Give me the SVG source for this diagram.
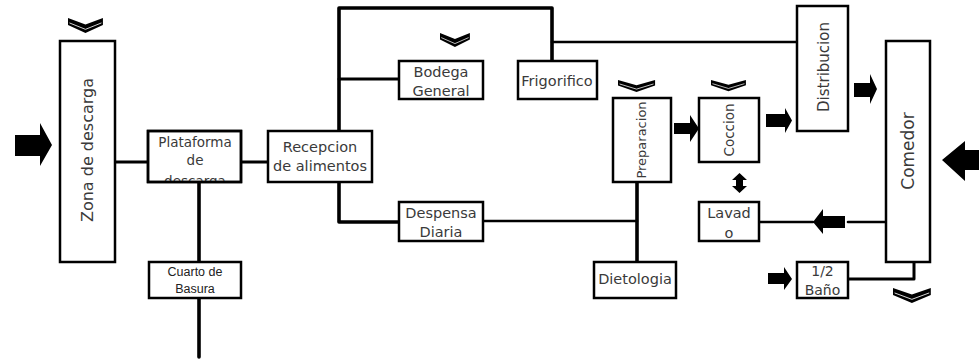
<svg xmlns="http://www.w3.org/2000/svg" width="979" height="360" viewBox="0 0 979 360">
  <style>
    .box { fill: #fff; stroke: #000; stroke-width: 2.5; }
    .lbl { font-family: "DejaVu Sans", "Liberation Sans", sans-serif; font-size: 14.5px; fill: #3a3a3a; text-anchor: middle; }
    .small { font-family: "Liberation Sans", Arial, sans-serif; font-size: 12.5px; fill: #222; text-anchor: middle; }
    .wire { fill: none; stroke: #000; stroke-width: 3; stroke-linecap: round; stroke-linejoin: round; }
    .thick { stroke-width: 3.6; }
    .thin { stroke-width: 2.6; }
    .arrow { fill: #000; }
  </style>
  <defs>
    <!-- downward chevron marker, 36 x 14 -->
    <g id="chev">
      <path d="M0,0 L18,6 L36,0 L36,6.5 L18,14 L0,6.5 Z" fill="#000"/>
      <path d="M1.5,4.6 L18,10.6 L34.5,4.6" fill="none" stroke="#fff" stroke-width="0.8"/>
    </g>
    <clipPath id="platClip">
      <rect x="148" y="131" width="93" height="51"/>
    </clipPath>
  </defs>

  <!-- connectors -->
  <g id="connectors">
    <line class="wire" x1="115" y1="162" x2="148" y2="162"/>
    <line class="wire" x1="241" y1="162" x2="268" y2="162"/>
    <line class="wire thick" x1="199" y1="182" x2="199" y2="262"/>
    <line class="wire thick" x1="199" y1="298" x2="199" y2="357"/>
    <polyline class="wire thick" points="339,131 339,8 552,8 552,61"/>
    <line class="wire" x1="339" y1="79" x2="399" y2="79"/>
    <polyline class="wire thick" points="339,182 339,222 399,222"/>
    <line class="wire thin" x1="483" y1="221" x2="637" y2="221"/>
    <line class="wire thick" x1="637" y1="182" x2="637" y2="262"/>
    <line class="wire thin" x1="552" y1="42" x2="797" y2="42"/>
    <line class="wire thin" x1="759" y1="222" x2="813" y2="222"/>
    <line class="wire thin" x1="848" y1="222" x2="886" y2="222"/>
    <polyline class="wire" points="848,279 914,279 914,262"/>

    <!-- block arrows -->
    <polygon class="arrow" points="15,135 40,135 40,123 52,145 40,166 40,156 15,156"/>
    <polygon class="arrow" points="674,123 690,123 690,115 699,128.5 690,142 690,134 674,134"/>
    <polygon class="arrow" points="766,114 785,114 785,108 792,120.5 785,133 785,127 766,127"/>
    <polygon class="arrow" points="854,83 870,83 870,74 877,89 870,104 870,97 854,97"/>
    <polygon class="arrow" points="979,150 965,150 965,141 942,160 965,181 965,170 979,170"/>
    <polygon class="arrow" points="813,222 823,209 823,216 845,216 845,228 823,228 823,234"/>
    <polygon class="arrow" points="768,273 784,273 784,267 792,279 784,290 784,284 768,284"/>
    <polygon class="arrow" points="739.5,173 747,180 743,180 743,186 747,186 739.5,193 732,186 736,186 736,180 732,180"/>

    <!-- chevrons -->
    <use href="#chev" transform="translate(68,18) scale(0.97,1.07)"/>
    <use href="#chev" transform="translate(440,33) scale(0.83,1)"/>
    <use href="#chev" transform="translate(618,80) scale(1.03,0.86)"/>
    <use href="#chev" transform="translate(711,80) scale(0.97,0.8)"/>
    <use href="#chev" transform="translate(893,288) scale(1.05,1.07)"/>
  </g>

  <g id="zona">
    <rect class="box" x="60" y="41" width="55" height="221"/>
    <text class="lbl" style="font-size:16px" transform="translate(93,150) rotate(-90)">Zona de descarga</text>
  </g>

  <g id="plataforma">
    <rect class="box" x="148" y="131" width="93" height="51"/>
    <g clip-path="url(#platClip)">
      <text class="lbl" style="font-size:13.5px" x="195" y="147">Plataforma</text>
      <text class="lbl" style="font-size:13.5px" x="195" y="165">de</text>
      <text class="lbl" style="font-size:13.5px" x="195" y="186">descarga</text>
    </g>
    <rect x="148" y="131" width="93" height="51" fill="none" stroke="#000" stroke-width="2.5"/>
  </g>

  <g id="cuarto">
    <rect class="box" x="149" y="262" width="92" height="36"/>
    <text class="small" x="195" y="276">Cuarto de</text>
    <text class="small" x="195" y="293">Basura</text>
  </g>

  <g id="recepcion">
    <rect class="box" x="268" y="131" width="104" height="51"/>
    <text class="lbl" x="320" y="152">Recepcion</text>
    <text class="lbl" x="320" y="171">de alimentos</text>
  </g>

  <g id="bodega">
    <rect class="box" x="399" y="61" width="84" height="38"/>
    <text class="lbl" x="441" y="77">Bodega</text>
    <text class="lbl" x="441" y="96">General</text>
  </g>

  <g id="frigorifico">
    <rect class="box" x="518" y="61" width="79" height="38"/>
    <text class="lbl" x="557" y="86">Frigorifico</text>
  </g>

  <g id="despensa">
    <rect class="box" x="399" y="202" width="84" height="39"/>
    <text class="lbl" x="441" y="218">Despensa</text>
    <text class="lbl" x="441" y="237">Diaria</text>
  </g>

  <g id="dietologia">
    <rect class="box" x="594" y="262" width="82" height="36"/>
    <text class="lbl" x="635" y="284">Dietologia</text>
  </g>

  <g id="preparacion">
    <rect class="box" x="613" y="98" width="58" height="84"/>
    <text class="lbl" style="font-size:13px" transform="translate(646,140) rotate(-90)">Preparacion</text>
  </g>

  <g id="coccion">
    <rect class="box" x="699" y="98" width="60" height="64"/>
    <text class="lbl" style="font-size:13.5px" transform="translate(734,130) rotate(-90)">Coccion</text>
  </g>

  <g id="distribucion">
    <rect class="box" x="797" y="6" width="51" height="125"/>
    <text class="lbl" style="font-size:15px" transform="translate(829,67) rotate(-90)">Distribucion</text>
  </g>

  <g id="comedor">
    <rect class="box" x="886" y="41" width="44" height="221"/>
    <text class="lbl" style="font-size:17px" transform="translate(914,151) rotate(-90)">Comedor</text>
  </g>

  <g id="lavado">
    <rect class="box" x="699" y="202" width="60" height="39"/>
    <text class="lbl" x="729" y="218">Lavad</text>
    <text class="lbl" x="729" y="238">o</text>
  </g>

  <g id="bano">
    <rect class="box" x="797" y="262" width="51" height="36"/>
    <text class="lbl" style="font-size:14px" x="822.5" y="276">1/2</text>
    <text class="lbl" style="font-size:14px" x="822.5" y="295">Baño</text>
  </g>
</svg>
